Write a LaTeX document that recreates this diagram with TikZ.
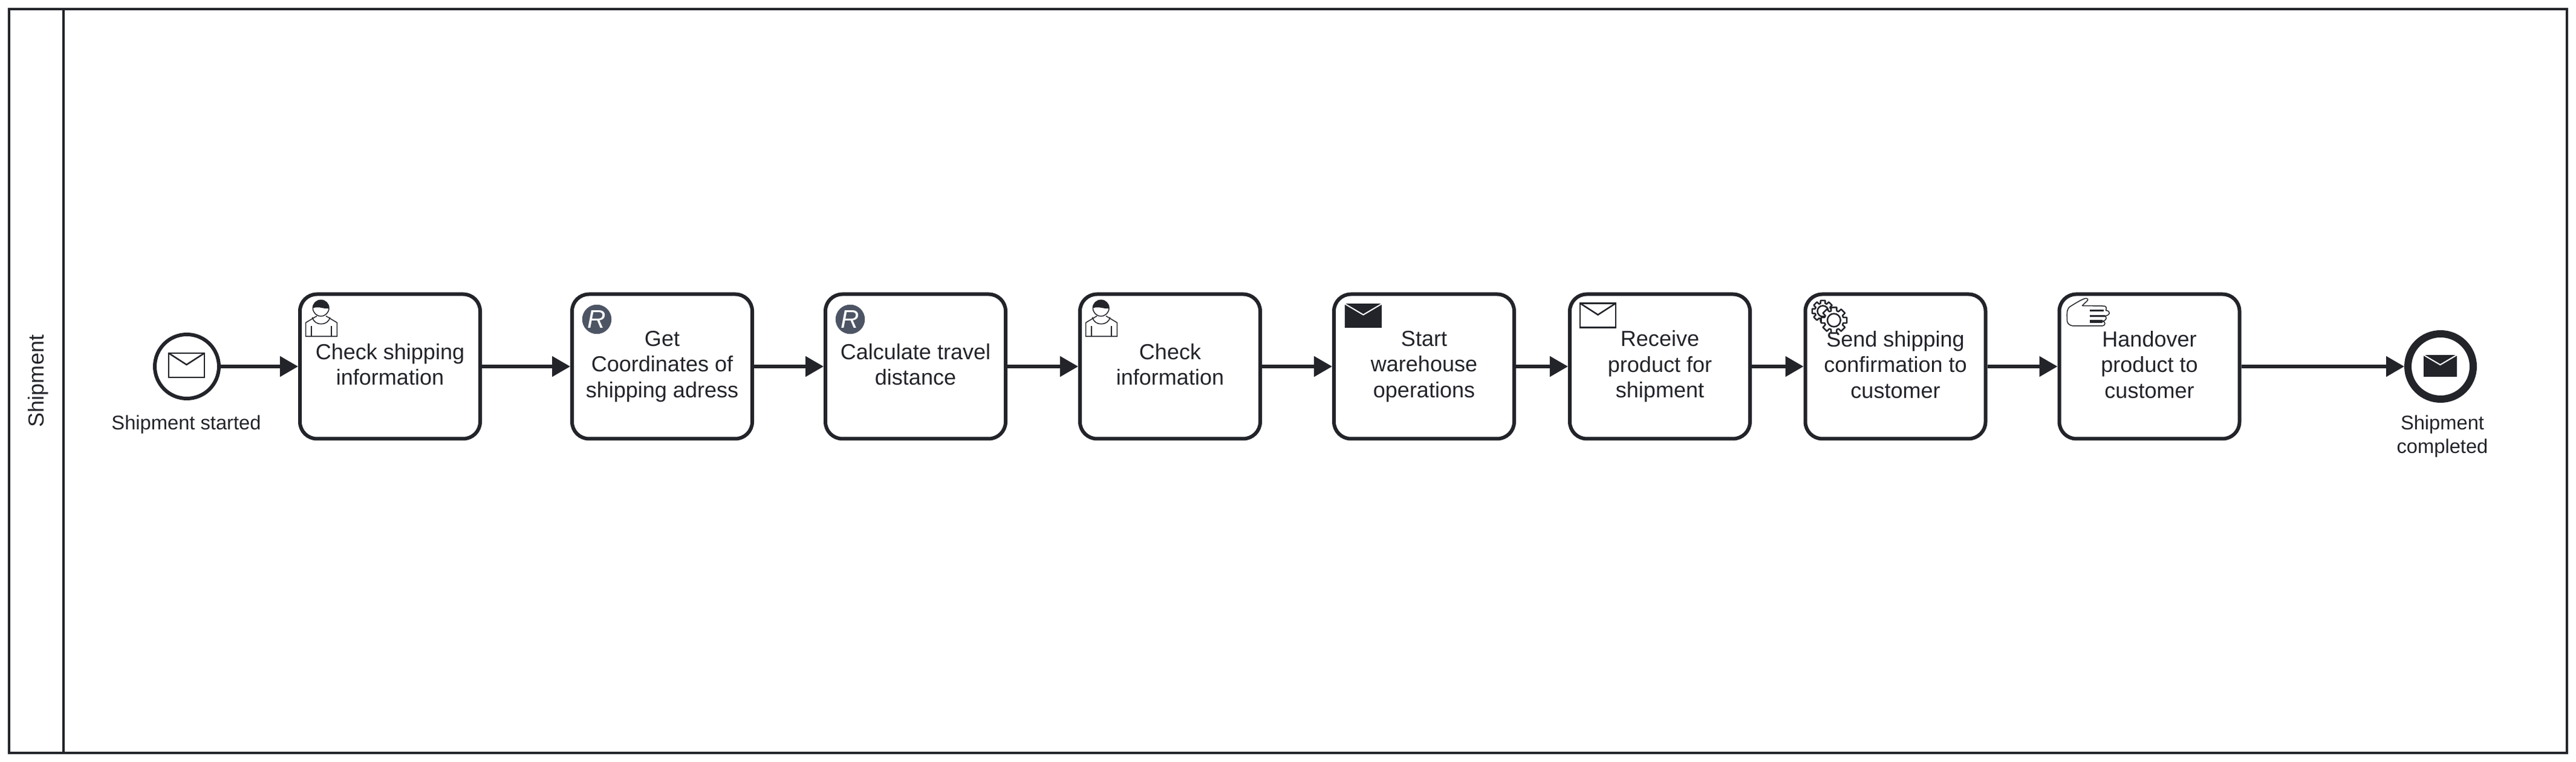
\documentclass[tikz,border=0pt]{standalone}
\usepackage{fontspec}
\setmainfont{Liberation Sans}
\usetikzlibrary{arrows.meta}

\definecolor{bpmndark}{HTML}{22242A}
\definecolor{bpmngrey}{HTML}{4D5565}

\newcommand{\gearwheel}[3]{
    \begin{scope}[shift={(#1,#2)}]
        \draw[fill=white,line width=0.05cm,line join=round] (-12:#3)
            \foreach \a in {0,45,...,315} {
                -- (\a-12:#3) -- (\a+12:#3) -- (\a+17:0.74*#3) -- (\a+28:0.74*#3)
            } -- cycle;
        \draw[line width=0.05cm] (0,0) circle [radius=0.5*#3];
    \end{scope}
}

\tikzset{
    task/.style={draw=bpmndark,text=bpmndark,line width=0.12cm,rounded corners=0.56cm,
        minimum width=5.96cm,minimum height=4.78cm,align=center,inner sep=0pt,
        execute at end node={\rule[-4pt]{0pt}{4pt}},
        font={\fontsize{20.5}{24.2}\selectfont}},
    event label/.style={text=bpmndark,align=center,inner sep=0pt,
        font={\fontsize{18.6}{21.8}\selectfont}},
    flow/.style={draw=bpmndark,line width=0.11cm,-{Triangle[length=0.6cm,width=0.66cm]}},
    rbadge/.style={circle,fill=bpmngrey,text=white,minimum size=0.97cm,inner sep=0pt,
        font={\fontsize{24}{24}\selectfont\itshape}},
    pics/usericon/.style={code={
        \begin{scope}[x=0.2mm,y=-0.2mm,draw=bpmndark,line width=0.03cm]
            \draw (37.7,26) circle [radius=13.3];
            \fill[bpmndark] (24.4,26) arc [start angle=180,end angle=360,radius=13.3]
                .. controls (45,29) and (36,22) .. (24.4,26) -- cycle;
            \draw (31,39) -- (12.7,50) -- (12.7,72.7) -- (64.3,72.7) -- (64.3,50) -- (46,39);
            \draw (23.7,41) .. controls (26,56) and (50,56) .. (52.7,41);
            \draw[line width=0.04cm] (22,56) -- (22,72.7);
            \draw[line width=0.04cm] (55,56) -- (55,72.7);
        \end{scope}
    }},
    pics/mailopen/.style={code={
        \begin{scope}[x=0.2mm,y=-0.2mm,draw=bpmndark,line width=0.05cm]
            \draw (0,0) rectangle (59,40);
            \draw (0,0) -- (29.5,19) -- (59,0);
        \end{scope}
    }},
    pics/mailfilled/.style={code={
        \begin{scope}[x=0.2mm,y=-0.2mm]
            \fill[bpmndark] (0,0) rectangle (61,40);
            \draw[white,line width=0.04cm] (0,0) -- (30.5,18) -- (61,0);
        \end{scope}
    }},
    pics/gearicon/.style={code={
        \begin{scope}[x=0.2mm,y=-0.2mm,draw=bpmndark]
            \gearwheel{32}{31}{18}
            \gearwheel{50.3}{46}{21.7}
        \end{scope}
    }},
    pics/handicon/.style={code={
        \begin{scope}[x=0.2mm,y=-0.2mm,draw=bpmndark,line width=0.03cm]
            \draw[line join=round] (41,22)
                .. controls (46,16) and (52,13) .. (50,11)
                .. controls (48,8) and (42,10) .. (20,24)
                .. controls (14,29) and (16,40) .. (16,48)
                .. controls (17,54) and (24,56) .. (30,55.5)
                -- (74,55.5) .. controls (80,55) and (80,48) .. (74,47.5)
                .. controls (82,47) and (82,40) .. (78,39)
                .. controls (88,38) and (88,30) .. (80,30)
                .. controls (82,24) and (80,22) .. (74,22.5) -- cycle;
            \draw[line width=0.05cm] (53,30) -- (76,30);
            \draw[line width=0.05cm] (53,39) -- (78,39);
            \draw[line width=0.1cm] (53,48) -- (74,48);
        \end{scope}
    }}
}

\begin{document}
\begin{tikzpicture}
            \useasboundingbox (0,0) rectangle (85.2,25.2);

            % pool and lane
            \node[draw=bpmndark,line width=0.08cm,minimum width=84.6cm,minimum height=24.6cm,inner sep=0pt] (Pool) at (42.6,12.6) {};
            \coordinate (Lane Top) at (2.1,24.9);
            \coordinate (Lane Bottom) at (2.1,0.3);
            \draw[draw=bpmndark,line width=0.08cm] (Lane Top) to (Lane Bottom);
            \node[rotate=90,text=bpmndark,inner sep=0pt,font={\fontsize{20.5}{24}\selectfont}] (Lane Name) at (1.26,12.6) {Shipment};

            % events
            \node[draw=bpmndark,circle,line width=0.12cm,minimum size=2.12cm,inner sep=0pt] (Start Event) at (6.18,13.08) {};
            \node[event label] (Start Label) at (6.16,11.15) {Shipment started};
            \node[draw=bpmndark,circle,line width=0.24cm,minimum size=2.16cm,inner sep=0pt] (End Event) at (80.72,13.08) {};
            \node[event label] (End Label) at (80.78,10.77) {Shipment\\completed};

            % tasks
            \node[task] (Check Shipping) at (12.9,13.08) {Check shipping\\information};
            \node[task] (Get Coordinates) at (21.9,13.08) {Get\\Coordinates of\\shipping adress};
            \node[task] (Travel Distance) at (30.28,13.08) {Calculate travel\\distance};
            \node[task] (Check Info) at (38.7,13.08) {Check\\information};
            \node[task] (Start Warehouse) at (47.1,13.08) {Start\\warehouse\\operations};
            \node[task] (Receive Product) at (54.9,13.08) {Receive\\product for\\shipment};
            \node[task] (Send Confirmation) at (62.69,13.08) {Send shipping\\confirmation to\\customer};
            \node[task] (Handover) at (71.09,13.08) {Handover\\product to\\customer};

            % markers
            \pic at ([shift={(-0.6,0.44)}]Start Event.center) {mailopen};
            \pic[scale=0.9] at ([shift={(-0.56,0.38)}]End Event.center) {mailfilled};
            \pic at (Check Shipping.north west) {usericon};
            \pic at (Check Info.north west) {usericon};
            \node[rbadge] (Robot One) at ([shift={(0.88,-0.89)}]Get Coordinates.north west) {R};
            \node[rbadge] (Robot Two) at ([shift={(0.88,-0.89)}]Travel Distance.north west) {R};
            \pic at ([shift={(0.42,-0.38)}]Start Warehouse.north west) {mailfilled};
            \pic at ([shift={(0.4,-0.36)}]Receive Product.north west) {mailopen};
            \pic at (Send Confirmation.north west) {gearicon};
            \pic at (Handover.north west) {handicon};

            % sequence flows
            \draw[flow] (Start Event) to (Check Shipping);
            \draw[flow] (Check Shipping) to (Get Coordinates);
            \draw[flow] (Get Coordinates) to (Travel Distance);
            \draw[flow] (Travel Distance) to (Check Info);
            \draw[flow] (Check Info) to (Start Warehouse);
            \draw[flow] (Start Warehouse) to (Receive Product);
            \draw[flow] (Receive Product) to (Send Confirmation);
            \draw[flow] (Send Confirmation) to (Handover);
            \draw[flow] (Handover) to (End Event);
        \end{tikzpicture}
\end{document}
